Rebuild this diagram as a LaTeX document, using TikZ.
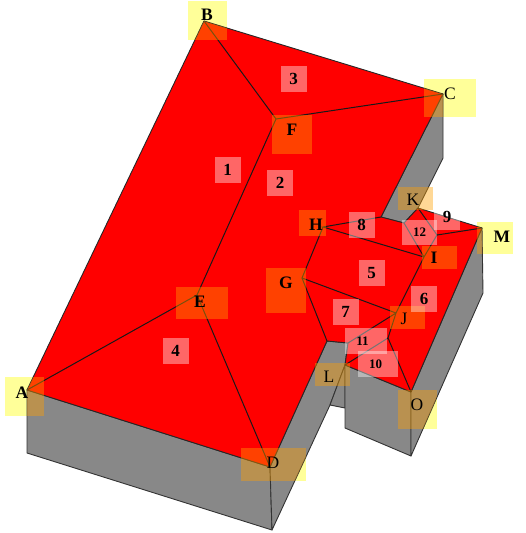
\documentclass[tikz,border=0pt]{standalone}
\usepackage{fontspec}
\setmainfont{Liberation Serif}
\definecolor{wallgray}{RGB}{136,136,136}
\definecolor{paleyellow}{RGB}{255,255,153}
\definecolor{tagorange}{RGB}{255,160,0}
\tikzset{
  wall/.style={fill=wallgray, draw=black!80, line width=.9pt, line join=round},
  roof/.style={fill=red, draw=black!85, line width=.9pt, line join=round},
  ridge/.style={draw=black!90, line width=1pt},
  yellowbox/.style={fill=paleyellow, inner sep=0pt},
  orangebox/.style={fill=tagorange, fill opacity=.41, inner sep=0pt},
  letter/.style={inner sep=0pt, font=\fontsize{17.5}{18}\selectfont\bfseries},
  thinletter/.style={inner sep=0pt, font=\fontsize{17.5}{18}\selectfont},
  numbox/.style={fill=white, fill opacity=.4, text opacity=1, inner sep=0pt, minimum height=26pt, minimum width=26pt, font=\fontsize{17}{17}\selectfont\bfseries},
  smallnum/.style={font=\fontsize{13}{13}\selectfont\bfseries}
}
\begin{document}
\begin{tikzpicture}[x=1pt,y=-1pt]
\useasboundingbox (0,0) rectangle (525,533);
% roof corners
\coordinate (A) at (27,390);
\coordinate (B) at (204,21);
\coordinate (C) at (443,94);
\coordinate (D) at (270,467);
\coordinate (E) at (197,295);
\coordinate (F) at (276,119);
\coordinate (G) at (302,278);
\coordinate (H) at (323,227);
\coordinate (I) at (424,257);
\coordinate (J) at (396,313);
\coordinate (K) at (418,208);
\coordinate (L) at (345,365);
\coordinate (M) at (482,228);
\coordinate (O) at (411,392);
\coordinate (notchA) at (381,217);
\coordinate (notchB) at (404,223);
\coordinate (peak) at (437,235);
\coordinate (valley) at (388,338);
\coordinate (stepA) at (327,341);
\coordinate (stepB) at (348,343);
% wall feet
\coordinate (Afoot) at (27,453);
\coordinate (Dfoot) at (272,530);
\coordinate (Cfoot) at (443,158);
\coordinate (Lfoot) at (345,428);
\coordinate (Ofoot) at (411,456);
\coordinate (Mfoot) at (483,293);
\coordinate (stepfoot) at (330,405);
\coordinate (Lback) at (345,408);
% tags that stick out over the white page
\node[yellowbox, minimum width=39pt, minimum height=39pt] (boxA) at (24.5,396.5) {};
\node[yellowbox, minimum width=39pt, minimum height=39pt] (boxB) at (207.5,20.5) {};
\node[yellowbox, minimum width=52pt, minimum height=38pt] (boxC) at (450,98) {};
\node[yellowbox, minimum width=65pt, minimum height=33pt] (boxD) at (273.5,464.5) {};
\node[yellowbox, minimum width=36pt, minimum height=32pt] (boxM) at (495,238) {};
\node[yellowbox, minimum width=39pt, minimum height=39pt] (boxO) at (417.5,409.5) {};
% walls
\draw[wall] (A) -- (D) -- (Dfoot) -- (Afoot) -- cycle;
\draw[wall] (D) -- (stepA) -- (stepB) -- (L) -- (stepfoot) -- (Dfoot) -- cycle;
\draw[wall] (L) -- (Lback) -- (stepfoot) -- cycle;
\draw[wall] (L) -- (O) -- (Ofoot) -- (Lfoot) -- cycle;
\draw[wall] (O) -- (M) -- (Mfoot) -- (Ofoot) -- cycle;
\draw[wall] (C) -- (Cfoot) -- (K) -- (notchB) -- (notchA) -- cycle;
% roof
\draw[roof] (A) -- (B) -- (C) -- (notchA) -- (notchB) -- (K) -- (M) -- (O) -- (L) -- (stepB) -- (stepA) -- (D) -- cycle;
\path[ridge] (A) -- (E) -- (D)
(E) -- (F) -- (B)
(F) -- (C)
(notchA) -- (H) -- (I)
(H) -- (G) -- (J)
(G) -- (stepA)
(notchB) -- (I) -- (J) -- (stepB)
(J) -- (valley) -- (L)
(valley) -- (O)
(K) -- (peak) -- (M)
(peak) -- (I);
% same tags where they lie on the building
\begin{scope}
\clip (A) -- (B) -- (C) -- (Cfoot) -- (K) -- (M) -- (Mfoot) -- (Ofoot) -- (Lfoot) -- (Lback) -- (stepfoot) -- (Dfoot) -- (Afoot) -- cycle;
\foreach \tag in {A,B,C,D,M,O}
  \fill[tagorange, fill opacity=.41] (box\tag.south west) rectangle (box\tag.north east);
\end{scope}
\node[orangebox, minimum width=52pt, minimum height=32pt] (boxE) at (202,303) {};
\node[orangebox, minimum width=40pt, minimum height=39pt] (boxF) at (292,134.5) {};
\node[orangebox, minimum width=40pt, minimum height=45pt] (boxG) at (286,290) {};
\node[orangebox, minimum width=27pt, minimum height=26pt] (boxH) at (312.5,223) {};
\node[orangebox, minimum width=35pt, minimum height=23pt] (boxI) at (439.5,257.5) {};
\node[orangebox, minimum width=35pt, minimum height=23pt] (boxJ) at (407.5,317.5) {};
\node[orangebox, minimum width=35pt, minimum height=23pt] (boxK) at (415.5,198.5) {};
\node[orangebox, minimum width=35pt, minimum height=23pt] (boxL) at (332.5,374.5) {};
% corner letters
\node[letter] (textA) at (22,393) {A};
\node[letter] (textB) at (207,15) {B};
\node[thinletter] (textC) at (450,94) {C};
\node[thinletter] (textD) at (273,463) {D};
\node[letter] (textE) at (200,302) {E};
\node[letter] (textF) at (292,130) {F};
\node[letter] (textG) at (286,283) {G};
\node[letter] (textH) at (316,225) {H};
\node[letter] (textI) at (434,258) {I};
\node[thinletter] (textJ) at (404,319) {J};
\node[thinletter] (textK) at (413,200) {K};
\node[thinletter] (textL) at (329,377) {L};
\node[letter] (textM) at (502,237) {M};
\node[thinletter] (textO) at (417,405) {O};
% roof face numbers
\node[numbox] (num1) at (227.5,169.5) {1};
\node[numbox] (num2) at (280,182.5) {2};
\node[numbox] (num3) at (293.5,78.5) {3};
\node[numbox] (num4) at (175.5,351) {4};
\node[numbox] (num5) at (371.5,273) {5};
\node[numbox] (num6) at (424,299) {6};
\node[numbox] (num7) at (345.5,312) {7};
\node[numbox] (num8) at (361.5,225) {8};
\node[numbox] (num9) at (447,217) {9};
\node[numbox, smallnum, minimum width=40pt] (num10) at (378,364) {\hspace*{-5pt}10};
\node[numbox, smallnum, minimum width=42pt] (num11) at (366,341) {\hspace*{-7pt}11};
\node[numbox, smallnum, minimum width=35pt, minimum height=25pt] (num12) at (419.5,232.5) {12};
\end{tikzpicture}
\end{document}
